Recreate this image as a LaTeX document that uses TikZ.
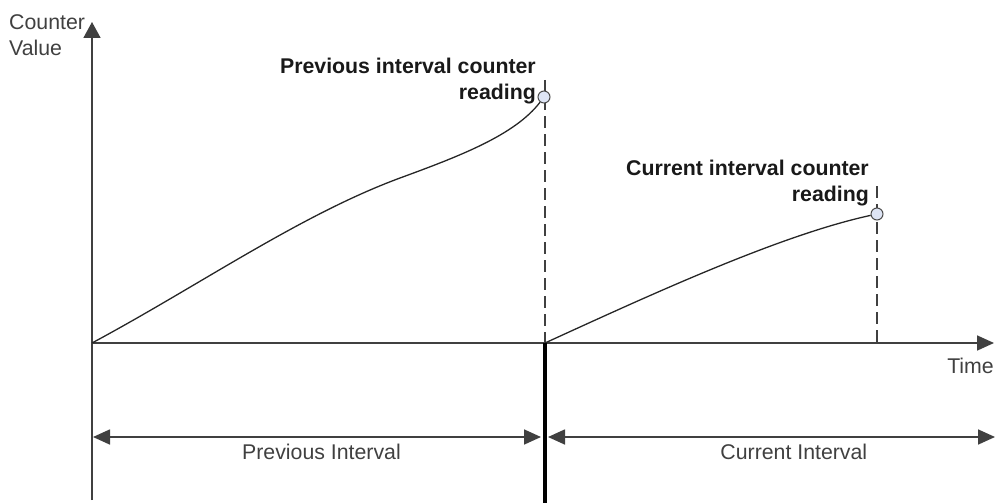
\documentclass[tikz,border=0pt]{standalone}
\usepackage{fontspec}
\setmainfont{Liberation Sans}
\usetikzlibrary{arrows.meta}
\definecolor{ReadFill}{rgb}{0.87,0.9,0.96}
\definecolor{AxisGray}{gray}{0.25}
\definecolor{TextGray}{gray}{0.25}
\tikzset{
  axisline/.style={draw=AxisGray,line width=1.7pt},
  curve/.style={draw=black!85,line width=1.3pt},
  readline/.style={draw=black!75,line width=1.3pt,dash pattern=on 12pt off 6pt},
  reading/.style={circle,draw=black!70,fill=ReadFill,line width=1pt,minimum size=12pt,inner sep=0pt},
  labeltext/.style={text=TextGray,inner sep=0pt,font=\fontsize{21.3}{25.5}\selectfont},
  notetext/.style={text=black!90,inner sep=0pt,font=\fontsize{21.3}{25.5}\selectfont\bfseries},
  tip/.style={-{Triangle[length=17pt,width=15pt]}}
}
\newcommand{\drawinterval}[4]{ % Parameters: start, end, label position, label
  \draw[axisline,{Triangle[length=17pt,width=15pt]}-{Triangle[length=17pt,width=15pt]}] (#1) -- (#2)
    node[labeltext,pos=#3,below=6pt] {#4};
}

\begin{document}
\begin{tikzpicture}[x=1pt,y=-1pt]
  \useasboundingbox (0,0) rectangle (996,503);
  % axes
  \coordinate (O) at (92,343);
  \coordinate (yTop) at (92,22);
  \coordinate (yBot) at (92,500);
  \coordinate (xEnd) at (994,343);
  \coordinate (split) at (545,343);
  \draw[axisline,-{Triangle[length=16pt,width=17pt]}] (yBot) -- (yTop);
  \draw[axisline,tip] (O) -- (xEnd);
  \node[labeltext,anchor=west,align=left] (yLabel) at (9,35) {Counter\\Value};
  \node[labeltext,anchor=east] (xLabel) at (994,366) {Time};
  % readings
  \coordinate (prevTop) at (545,80);
  \coordinate (curTop) at (877,186);
  \coordinate (curFoot) at (877,343);
  \draw[readline] (prevTop) -- (split);
  \draw[readline] (curTop) -- (curFoot);
  \node[reading] (prevRead) at (544,97) {};
  \node[reading] (curRead) at (877,214) {};
  \draw[curve] (O) .. controls (200,285) and (300,215) .. (400,178)
    .. controls (460,156) and (515,135) .. (prevRead);
  \draw[curve] (split) .. controls (650,295) and (780,235) .. (curRead);
  \node[notetext,anchor=east,align=right] (prevNote) at (536,81) {Previous interval counter\\reading};
  \node[notetext,anchor=east,align=right] (curNote) at (869,183) {Current interval counter\\reading};
  % intervals
  \coordinate (splitBot) at (545,503);
  \draw[line width=4pt] (split) -- (splitBot);
  \coordinate (prevStart) at (93,437);
  \coordinate (prevEnd) at (541,437);
  \coordinate (curStart) at (548,437);
  \coordinate (curEnd) at (995,437);
  \drawinterval{prevStart}{prevEnd}{0.51}{Previous Interval}
  \drawinterval{curStart}{curEnd}{0.55}{Current Interval}
\end{tikzpicture}
\end{document}
